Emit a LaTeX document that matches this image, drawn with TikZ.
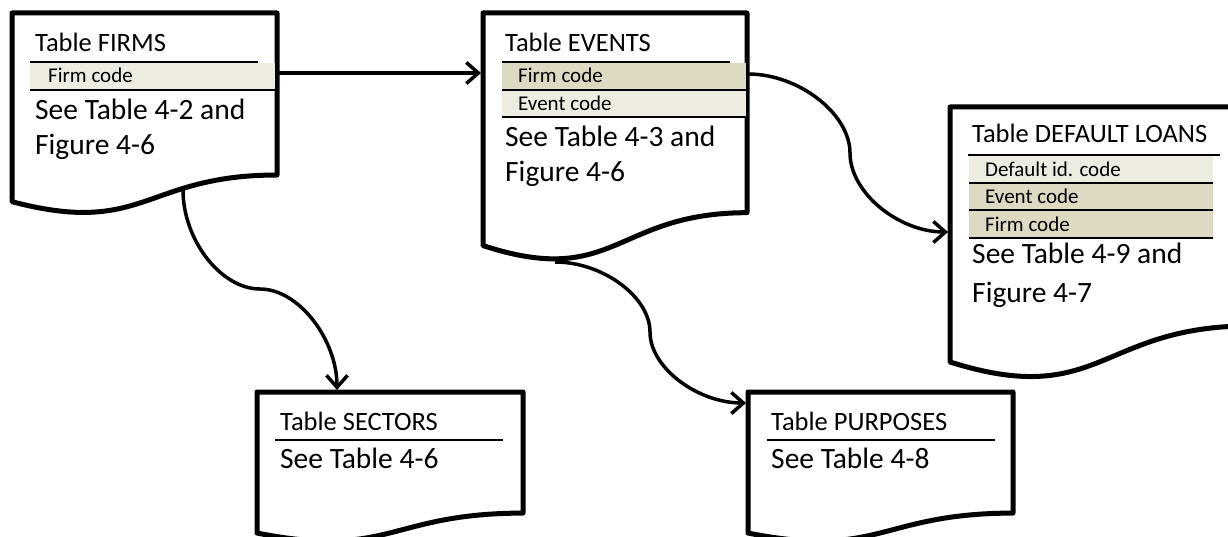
\documentclass[tikz,border=0pt]{standalone}
\usepackage{fontspec}
\setmainfont{Carlito}
\usetikzlibrary{arrows.meta}

\definecolor{keylight}{HTML}{EEECE1}
\definecolor{keydark}{HTML}{DDD9C3}

\tikzset{
	tableline/.style={line width=5pt, line join=round},
	rule/.style={line width=1.8pt},
	title/.style={anchor=base west, inner sep=0pt, font=\fontsize{26.5}{26.5}\selectfont},
	note/.style={anchor=base west, inner sep=0pt, font=\fontsize{29.5}{29.5}\selectfont},
	field/.style={anchor=base west, inner sep=0pt, font=\fontsize{21}{21}\selectfont},
	link/.style={line width=3.5pt, -{Straight Barb[length=12pt,width=21pt]}}
}

% document shape: left, top, width, height
\newcommand{\tablebox}[4]{%
	\pgfmathsetmacro{\rx}{#1+#3}
	\pgfmathsetmacro{\mx}{#1+0.5*#3}
	\pgfmathsetmacro{\ry}{#2+0.802*#4}
	\pgfmathsetmacro{\cy}{#2+1.1075*#4}
	\pgfmathsetmacro{\ly}{#2+0.934*#4}
	\draw[tableline, fill=white] (#1,#2) -- (\rx,#2) -- (\rx,\ry)
		.. controls (\mx,\ry) and (\mx,\cy) .. (#1,\ly) -- cycle;
}

\begin{document}
\begin{tikzpicture}[x=1pt, y=-1pt]
	\useasboundingbox (0,0) rectangle (1228,537);
	\clip (0,0) rectangle (1228,537);

	% FIRMS
	\tablebox{12}{13}{265}{202}
	\node[title] (firms) at (35,52) {Table FIRMS};
	\fill[keylight] (30,63) rectangle (275,90);
	\draw[rule] (30,62) -- (258,62);
	\draw[rule] (30,90) -- (275,90);
	\node[field] (firms-1) at (48,83) {Firm code};
	\node[note] (firms-a) at (35,120) {See Table 4-2 and};
	\node[note] (firms-b) at (35,155) {Figure 4-6};

	% EVENTS
	\tablebox{483}{13}{264}{249}
	\node[title] (events) at (505,52) {Table EVENTS};
	\fill[keydark] (502,63) rectangle (746,90);
	\fill[keylight] (502,90) rectangle (746,117);
	\draw[rule] (502,62) -- (730,62);
	\draw[rule] (502,90) -- (746,90);
	\draw[rule] (502,117) -- (746,117);
	\node[field] (events-1) at (518,83) {Firm code};
	\node[field] (events-2) at (518,111) {Event code};
	\node[note] (events-a) at (505,147) {See Table 4-3 and};
	\node[note] (events-b) at (505,182) {Figure 4-6};

	% DEFAULT LOANS
	\tablebox{950}{107}{300}{273}
	\node[title] (loans) at (972,143) {Table DEFAULT LOANS};
	\fill[keylight] (969,156) rectangle (1213,183);
	\fill[keydark] (969,183) rectangle (1213,238);
	\draw[rule] (968,155) -- (1220,155);
	\draw[rule] (969,183) -- (1213,183);
	\draw[rule] (969,210) -- (1213,210);
	\draw[rule] (969,238) -- (1213,238);
	\node[field] (loans-1) at (985,177) {Default id. code};
	\node[field] (loans-2) at (985,204) {Event code};
	\node[field] (loans-3) at (985,232) {Firm code};
	\node[note] (loans-a) at (972,264) {See Table 4-9 and};
	\node[note] (loans-b) at (972,302) {Figure 4-7};

	% SECTORS
	\tablebox{257}{392}{266}{151}
	\node[title] (sectors) at (280,430) {Table SECTORS};
	\draw[rule] (275,440) -- (503,440);
	\node[note] (sectors-a) at (280,468) {See Table 4-6};

	% PURPOSES
	\tablebox{748}{392}{265}{151}
	\node[title] (purposes) at (771,430) {Table PURPOSES};
	\draw[rule] (767,440) -- (995,440);
	\node[note] (purposes-a) at (771,468) {See Table 4-8};

	% connection points
	\coordinate (firms-e) at (277,73);
	\coordinate (firms-s) at (183,190);
	\coordinate (events-w) at (481,73);
	\coordinate (events-e) at (748,74);
	\coordinate (events-s) at (555,262);
	\coordinate (loans-w) at (948,232);
	\coordinate (sectors-n) at (337,390);
	\coordinate (purposes-w) at (746,403);

	\draw[link] (firms-e) -- (events-w);
	\draw[link] (events-e) .. controls (799,74) and (850,114) .. (850,153)
		.. controls (850,193) and (899,232) .. (loans-w);
	\draw[link] (firms-s) .. controls (183,240) and (221,289) .. (260,289)
		.. controls (299,289) and (337,340) .. (sectors-n);
	\draw[link] (events-s) .. controls (603,262) and (650,297) .. (650,332)
		.. controls (650,368) and (698,403) .. (purposes-w);
\end{tikzpicture}
\end{document}
